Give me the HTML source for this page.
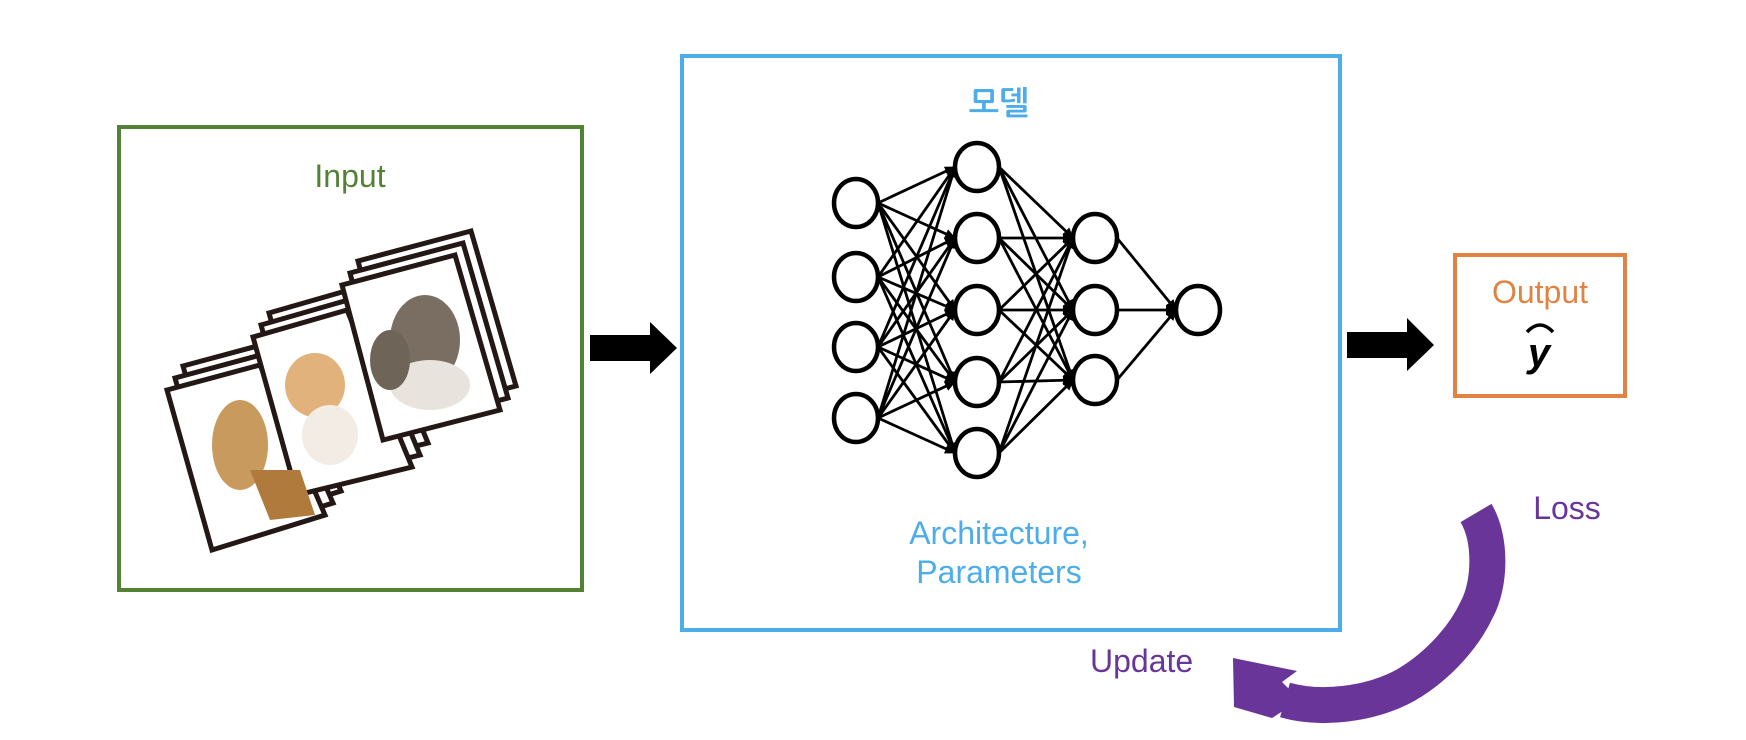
<!DOCTYPE html>
<html><head><meta charset="utf-8"><style>
html,body{margin:0;padding:0;background:#fff;overflow:hidden}
svg{display:block}
text{font-family:"Liberation Sans","NanumGothic",sans-serif;}
</style></head><body>
<svg width="1746" height="740" viewBox="0 0 1746 740" xmlns="http://www.w3.org/2000/svg">
<defs>
<marker id="ah" markerWidth="11" markerHeight="10" refX="10" refY="5" orient="auto" markerUnits="userSpaceOnUse"><path d="M0,0 L11,5 L0,10 z" fill="#000"/></marker>
</defs>
<rect x="119" y="127" width="463" height="463" fill="none" stroke="#548235" stroke-width="4"/>
<text x="350" y="187" font-size="32" fill="#548235" text-anchor="middle">Input</text>
<g stroke="#231815" stroke-width="5" fill="#fff" stroke-linejoin="miter">
 <polygon points="183,366 276,341 341,491 228,526"/>
 <polygon points="175,378 268,353 333,503 220,538"/>
 <polygon points="167,390 260,365 325,515 212,550"/>
 <polygon points="269,313 363,286 428,443 313,471"/>
 <polygon points="261,325 355,298 420,455 305,483"/>
 <polygon points="253,337 347,310 412,467 297,495"/>
 <polygon points="358,261 471,231 516,386 399,416"/>
 <polygon points="350,273 463,243 508,398 391,428"/>
 <polygon points="342,285 455,255 500,410 383,440"/>
</g>
<g>
 <ellipse cx="240" cy="445" rx="28" ry="45" fill="#c99a5e"/>
 <path d="M250,470 L300,470 L315,515 L270,520 z" fill="#b07a3c"/>
 <ellipse cx="315" cy="385" rx="30" ry="32" fill="#e2b27c"/>
 <ellipse cx="330" cy="435" rx="28" ry="30" fill="#f2ece4"/>
 <ellipse cx="425" cy="340" rx="35" ry="45" fill="#7a6e62"/>
 <ellipse cx="430" cy="385" rx="40" ry="25" fill="#e8e4dd"/>
 <ellipse cx="390" cy="360" rx="20" ry="30" fill="#6f6458"/>
</g>
<polygon points="590,335 650,335 650,322 677,348 650,374 650,361 590,361" fill="#000"/>
<rect x="682" y="56" width="658" height="574" fill="none" stroke="#4dade8" stroke-width="4"/>
<text x="999" y="114" font-size="32" font-weight="bold" fill="#4dade8" text-anchor="middle">모델</text>
<text x="999" y="544" font-size="32" fill="#4dade8" text-anchor="middle">Architecture,</text>
<text x="999" y="583" font-size="32" fill="#4dade8" text-anchor="middle">Parameters</text>
<g stroke="#000" stroke-width="2.8" marker-end="url(#ah)">
<line x1="878" y1="203" x2="955" y2="167"/><line x1="878" y1="203" x2="955" y2="238"/><line x1="878" y1="203" x2="955" y2="310"/><line x1="878" y1="203" x2="955" y2="382"/><line x1="878" y1="203" x2="955" y2="453"/>
<line x1="878" y1="277" x2="955" y2="167"/><line x1="878" y1="277" x2="955" y2="238"/><line x1="878" y1="277" x2="955" y2="310"/><line x1="878" y1="277" x2="955" y2="382"/><line x1="878" y1="277" x2="955" y2="453"/>
<line x1="878" y1="347" x2="955" y2="167"/><line x1="878" y1="347" x2="955" y2="238"/><line x1="878" y1="347" x2="955" y2="310"/><line x1="878" y1="347" x2="955" y2="382"/><line x1="878" y1="347" x2="955" y2="453"/>
<line x1="878" y1="418" x2="955" y2="167"/><line x1="878" y1="418" x2="955" y2="238"/><line x1="878" y1="418" x2="955" y2="310"/><line x1="878" y1="418" x2="955" y2="382"/><line x1="878" y1="418" x2="955" y2="453"/>
<line x1="999" y1="167" x2="1073" y2="238"/><line x1="999" y1="167" x2="1073" y2="310"/><line x1="999" y1="167" x2="1073" y2="380"/>
<line x1="999" y1="238" x2="1073" y2="238"/><line x1="999" y1="238" x2="1073" y2="310"/><line x1="999" y1="238" x2="1073" y2="380"/>
<line x1="999" y1="310" x2="1073" y2="238"/><line x1="999" y1="310" x2="1073" y2="310"/><line x1="999" y1="310" x2="1073" y2="380"/>
<line x1="999" y1="382" x2="1073" y2="238"/><line x1="999" y1="382" x2="1073" y2="310"/><line x1="999" y1="382" x2="1073" y2="380"/>
<line x1="999" y1="453" x2="1073" y2="238"/><line x1="999" y1="453" x2="1073" y2="310"/><line x1="999" y1="453" x2="1073" y2="380"/>
<line x1="1117" y1="238" x2="1176" y2="310"/><line x1="1117" y1="310" x2="1176" y2="310"/><line x1="1117" y1="380" x2="1176" y2="310"/>
</g>
<g fill="#fff" stroke="#000" stroke-width="4.5">
<ellipse cx="856" cy="203" rx="22" ry="24"/><ellipse cx="856" cy="277" rx="22" ry="24"/><ellipse cx="856" cy="347" rx="22" ry="24"/><ellipse cx="856" cy="418" rx="22" ry="24"/>
<ellipse cx="977" cy="167" rx="22" ry="24"/><ellipse cx="977" cy="238" rx="22" ry="24"/><ellipse cx="977" cy="310" rx="22" ry="24"/><ellipse cx="977" cy="382" rx="22" ry="24"/><ellipse cx="977" cy="453" rx="22" ry="24"/>
<ellipse cx="1095" cy="238" rx="22" ry="24"/><ellipse cx="1095" cy="310" rx="22" ry="24"/><ellipse cx="1095" cy="380" rx="22" ry="24"/>
<ellipse cx="1198" cy="310" rx="22" ry="24"/>
</g>
<polygon points="1347,332 1407,332 1407,318 1434,345 1407,371 1407,358 1347,358" fill="#000"/>
<rect x="1455" y="255" width="170" height="141" fill="none" stroke="#e08343" stroke-width="4"/>
<text x="1540" y="303" font-size="32" fill="#e08343" text-anchor="middle">Output</text>
<text x="1539" y="366" font-size="40" font-weight="bold" font-style="italic" fill="#000" text-anchor="middle" font-family="Liberation Serif, serif">y</text>
<path d="M1527,332 Q1540,318 1553,332" fill="none" stroke="#000" stroke-width="3.5"/>
<path d="M1476,513 C1492,540 1490,585 1477,609 C1465,635 1440,665 1406,685 C1370,705 1320,710 1285,700" fill="none" stroke="#693598" stroke-width="36"/>
<polygon points="1233,658 1297,671 1282,682 1300,700 1272,718 1234,707" fill="#693598"/>
<text x="1567" y="519" font-size="32" fill="#693598" text-anchor="middle">Loss</text>
<text x="1090" y="672" font-size="32" fill="#693598">Update</text>
</svg>
</body></html>
